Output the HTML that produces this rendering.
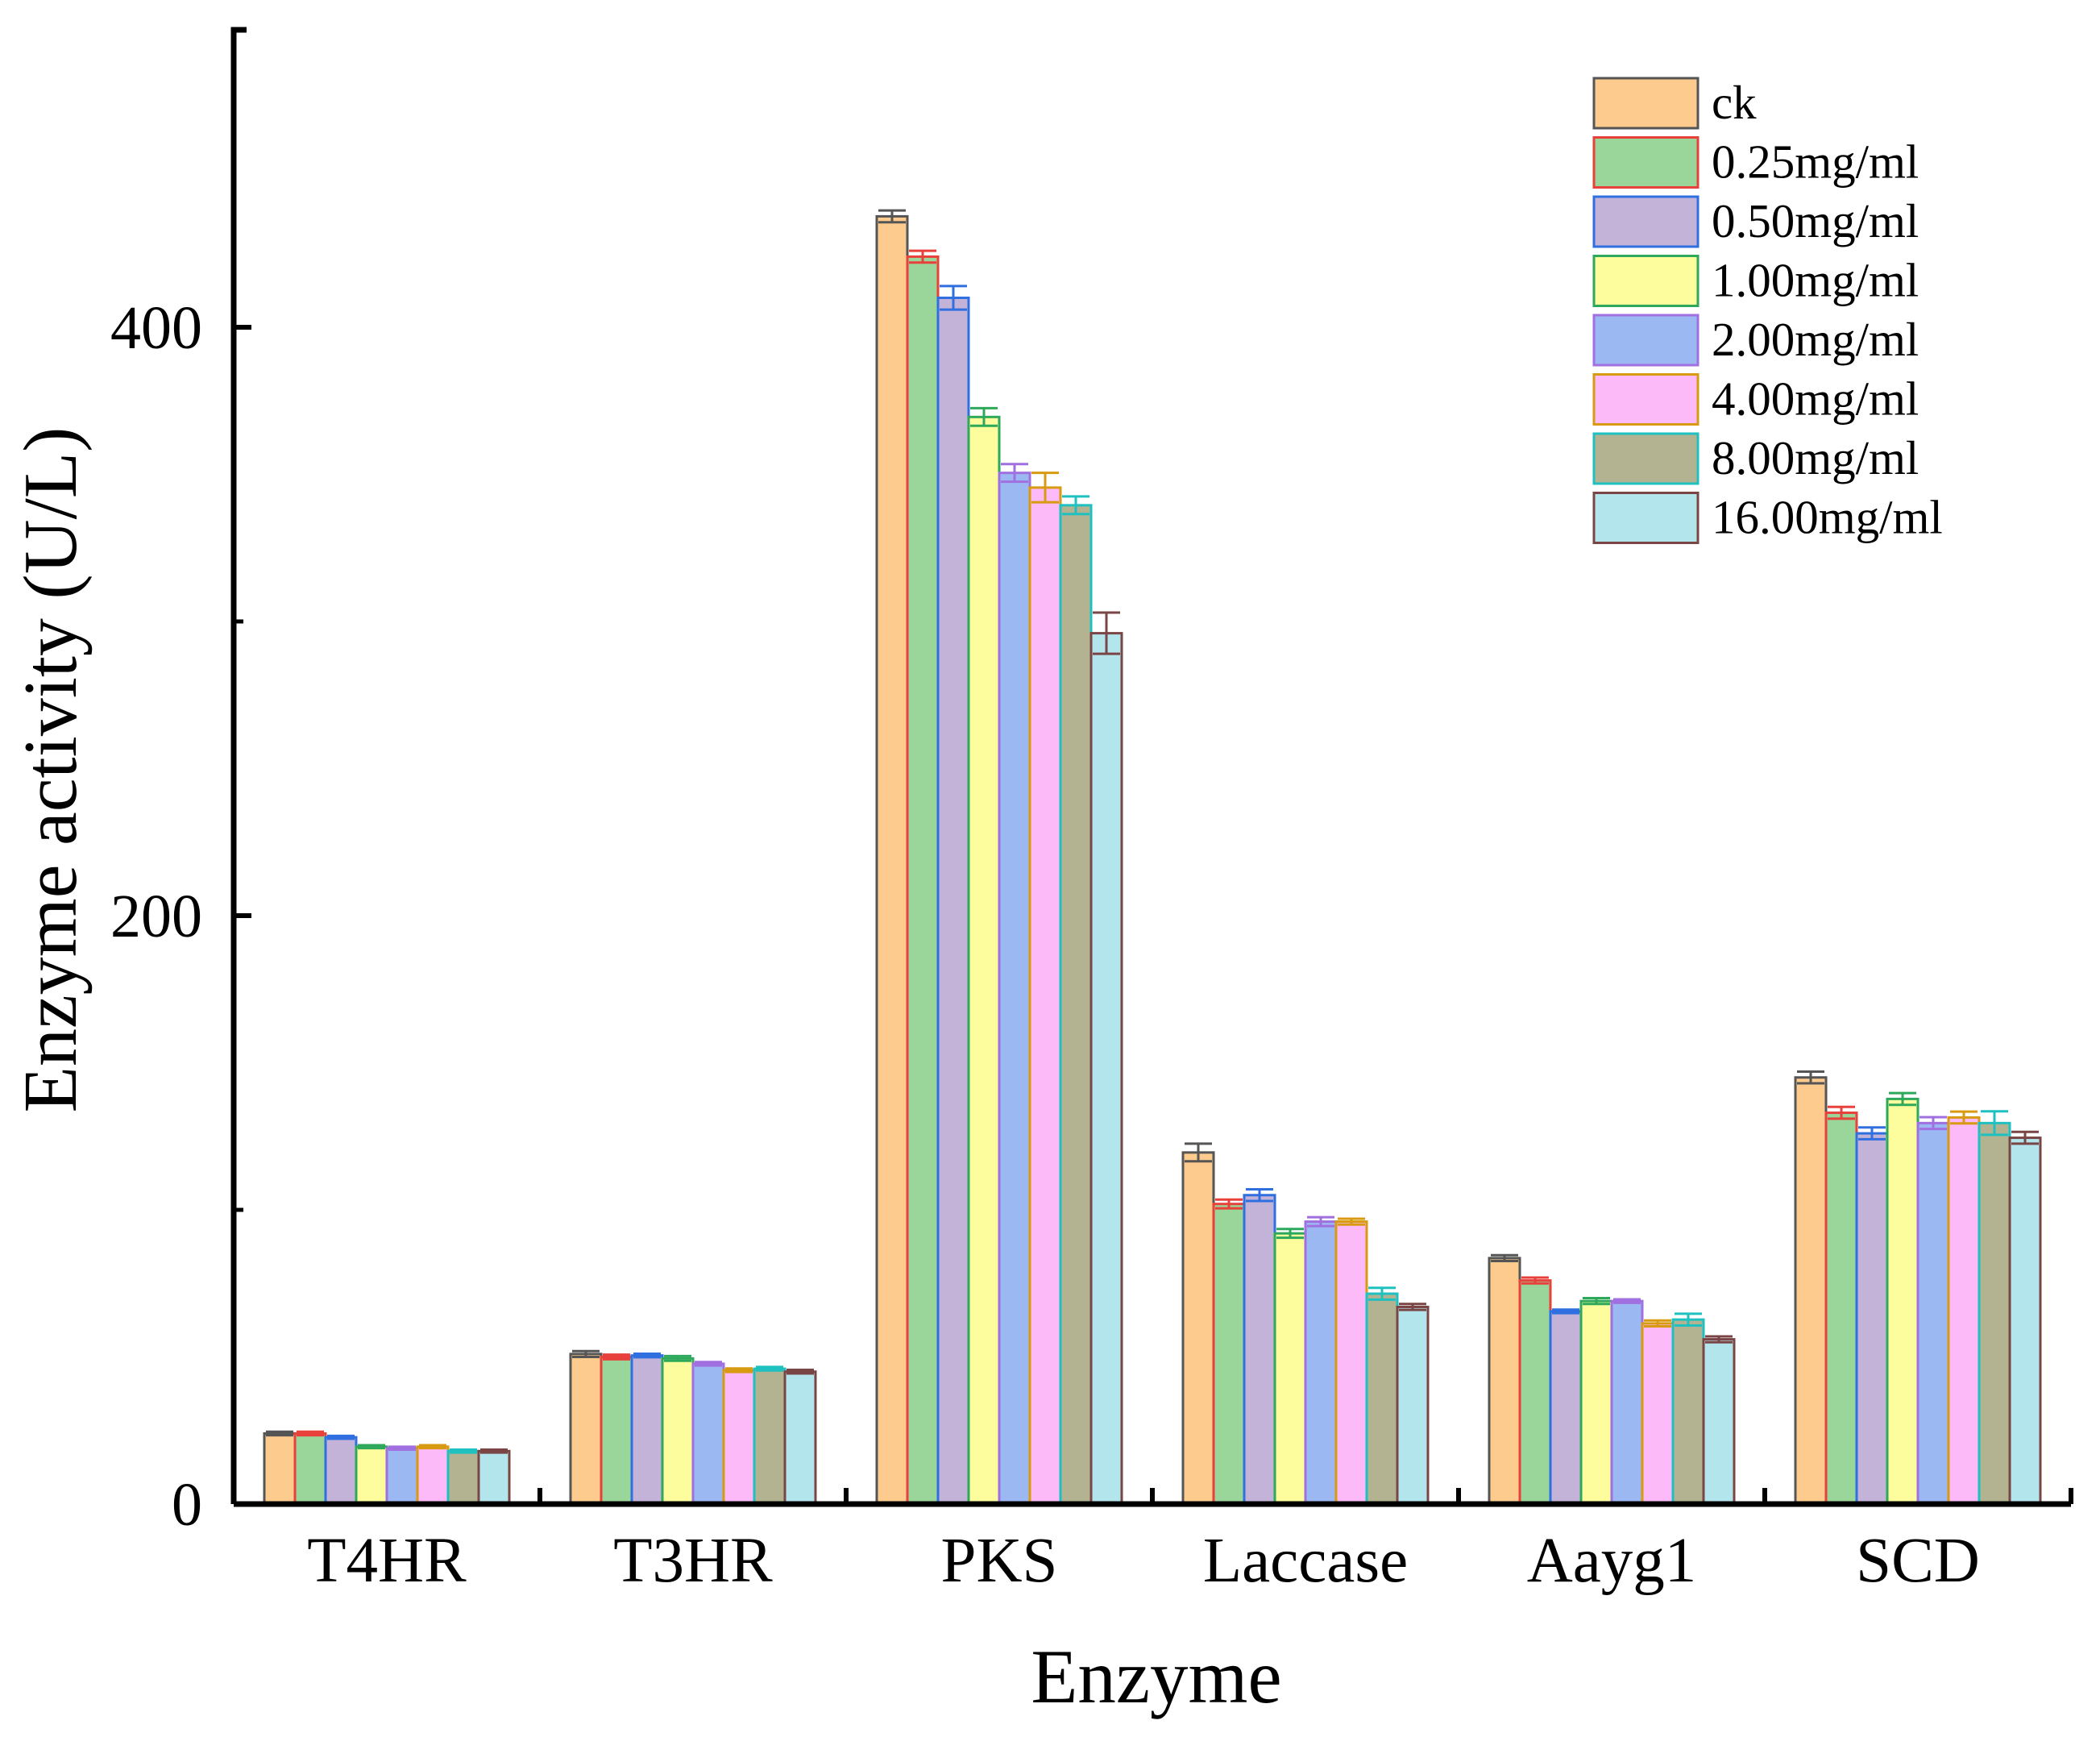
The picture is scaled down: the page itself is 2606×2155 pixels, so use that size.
<!DOCTYPE html>
<html><head><meta charset="utf-8"><style>
html,body{margin:0;padding:0;background:#fff;}
svg{display:block;font-family:"Liberation Serif",serif;}
</style></head><body>
<svg id="chart" width="2606" height="2155" viewBox="0 0 2606 2155" xmlns="http://www.w3.org/2000/svg">
<g id="bars"></g>
<g id="axes"></g>
<g id="legend"></g>
</svg>
<script>
const categories = ["T4HR","T3HR","PKS","Laccase","Aayg1","SCD"];
const seriesNames = ["ck","0.25mg/ml","0.50mg/ml","1.00mg/ml","2.00mg/ml","4.00mg/ml","8.00mg/ml","16.00mg/ml"];
const vCk   = [24, 51, 437.7, 119.5, 83.6, 145];
const v025  = [24, 50, 424, 102, 76, 133];
const v050  = [22.7, 50.5, 410, 105, 65.5, 126];
const v100  = [19.5, 49.5, 369.5, 92, 69, 137.7];
const v200  = [19, 47.7, 350.5, 96, 69, 129.5];
const v400  = [19.5, 45.5, 345.5, 96, 61.4, 131.4];
const v800  = [18, 46, 339.5, 71.5, 62.7, 129.5];
const v1600 = [18, 45, 296, 67, 56, 124.5];
const eCk   = [0.6, 1, 2, 3, 1, 2];
const e025  = [0.6, 0.8, 2, 1.5, 1, 2];
const e050  = [0.5, 0.6, 4, 2, 0.6, 2];
const e100  = [0.5, 0.8, 3, 1.5, 1, 2];
const e200  = [0.5, 0.6, 3, 1.5, 0.6, 2];
const e400  = [0.5, 0.6, 5, 1, 1, 2];
const e800  = [0.5, 0.6, 3, 2, 2, 4];
const e1600 = [0.5, 0.6, 7, 1, 1, 2];
const yTicks = [0, 200, 400];
const yMinor = [100, 300];

const series = [vCk,v025,v050,v100,v200,v400,v800,v1600];
const errs = [eCk,e025,e050,e100,e200,e400,e800,e1600];
const fills = ["#FDCB8E","#9AD59A","#C4B3D8","#FDFD9E","#9CB8F2","#FDBAF9","#B3B391","#B3E5EC"];
const edges = ["#555555","#E8403A","#2F6FE0","#2EA85A","#A070E0","#D89A10","#1FC0C0","#7A4545"];

const NS="http://www.w3.org/2000/svg";
const X0=290, BAND=380, Y0=1866, PXU=3.65;
const y=v=>Y0-v*PXU;
const xBand=i=>X0+i*BAND;
function mk(tag,attrs,parent){const e=document.createElementNS(NS,tag);for(const k in attrs)e.setAttribute(k,attrs[k]);parent.appendChild(e);return e;}
const gb=document.getElementById('bars'), ga=document.getElementById('axes'), gl=document.getElementById('legend');
const bw=BAND*0.8/8;
categories.forEach((c,i)=>{
  const start=xBand(i)+BAND*0.1;
  series.forEach((s,j)=>{
    const x=start+j*bw, v=s[i], e=errs[j][i];
    const r=mk('rect',{x:x,y:y(v),width:bw,height:Y0-y(v),fill:fills[j],stroke:edges[j],'stroke-width':3},gb);
    
    
    const cx=x+bw/2;
    const eb=mk('path',{d:`M${cx},${y(v+e)}V${y(v-e)}M${x+2},${y(v+e)}H${x+bw-2}M${x+2},${y(v-e)}H${x+bw-2}`,stroke:edges[j],'stroke-width':3,fill:'none'},gb);
    
    
  });
  const t=mk('text',{x:xBand(i)+BAND/2,y:1962,'font-size':79,'text-anchor':'middle',fill:'#000'},ga);
  t.textContent=c;
  
  
  const tk=mk('line',{x1:xBand(i+1),x2:xBand(i+1),y1:Y0,y2:Y0-20,stroke:'#000','stroke-width':6},ga);
  
  
});
const ax=mk('path',{d:`M${X0},${Y0}V37H${X0+16}M${X0},${Y0}H${xBand(6)}`,stroke:'#000','stroke-width':7,fill:'none'},ga);


yTicks.forEach(v=>{
  const l=mk('line',{x1:X0,x2:X0+22,y1:y(v),y2:y(v),stroke:'#000','stroke-width':6},ga);
  
  
  const t=mk('text',{x:251,y:y(v)+26,'font-size':76,'text-anchor':'end',fill:'#000'},ga);
  t.textContent=v;
  
  
});
yMinor.forEach(v=>{
  const l=mk('line',{x1:X0,x2:X0+12,y1:y(v),y2:y(v),stroke:'#000','stroke-width':5},ga);
  
  
});
const xt=mk('text',{x:1435,y:2112,'font-size':95,'text-anchor':'middle',fill:'#000'},ga);
xt.textContent='Enzyme';


const yt=mk('text',{x:0,y:0,'font-size':94,'text-anchor':'middle',fill:'#000',transform:'translate(94,955) rotate(-90)'},ga);
yt.textContent='Enzyme activity (U/L)';


seriesNames.forEach((n,j)=>{
  const yy=97+j*73.5;
  const r=mk('rect',{x:1978,y:yy,width:129,height:62,fill:fills[j],stroke:edges[j],'stroke-width':3},gl);
  
  
  const t=mk('text',{x:2124,y:yy+50,'font-size':59,fill:'#000'},gl);
  t.textContent=n;
  
  
});
</script>
</body></html>
